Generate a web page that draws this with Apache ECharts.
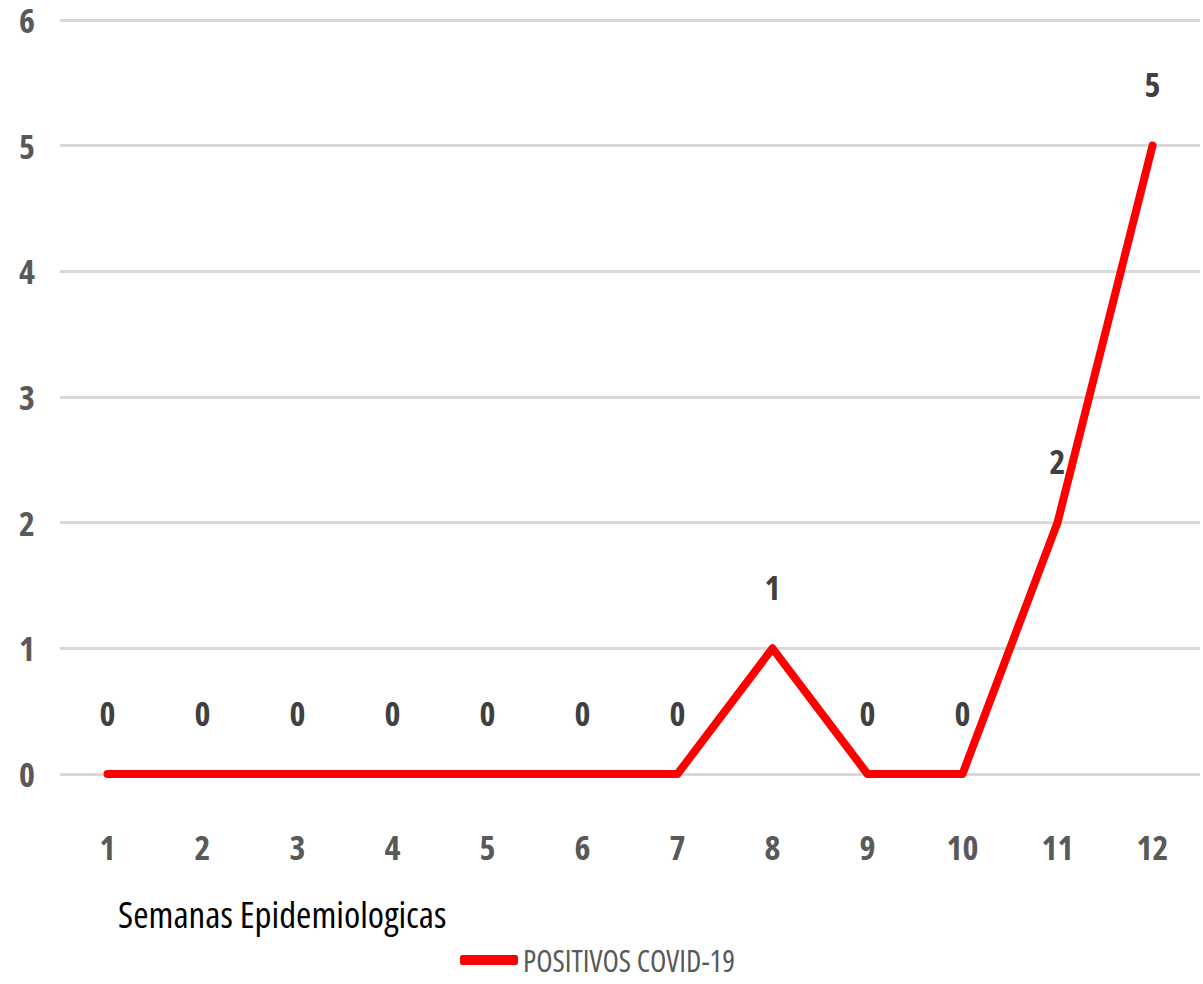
<!DOCTYPE html>
<html>
<head>
<meta charset="utf-8">
<script src="https://cdn.jsdelivr.net/npm/echarts@6/dist/echarts.min.js"></script>
<style>
html,body{margin:0;padding:0;background:#fff}
#c{width:1203px;height:984px}
#c svg text{font-stretch:75% !important;}
</style>
</head>
<body>
<div id="c"></div>
<script>
const categories = ['1','2','3','4','5','6','7','8','9','10','11','12'];
const positivos = [0,0,0,0,0,0,0,1,0,0,2,5];
const yTicks = [0,1,2,3,4,5,6];
const seriesName = 'POSITIVOS COVID-19';
const xAxisTitle = 'Semanas Epidemiologicas';

const narrow = '"Open Sans","Noto Sans","DejaVu Sans",sans-serif';
const chart = echarts.init(document.getElementById('c'), null, { renderer: 'svg' });
chart.setOption({
  animation: false,
  title: {
    text: xAxisTitle, left: 113, top: 890,
    textStyle: { fontFamily: narrow, fontSize: 37, fontWeight: 'normal', color: '#000' }
  },
  legend: {
    data: [seriesName], left: 460, top: 944,
    icon: 'roundRect', itemWidth: 58, itemHeight: 10, itemGap: 6, padding: 0,
    textStyle: { fontFamily: narrow, fontSize: 30, lineHeight: 32, color: '#595959' }
  },
  grid: { left: 60, right: 3, top: 20, bottom: 210, containLabel: false },
  xAxis: {
    type: 'category', data: categories, boundaryGap: true,
    axisLine: { show: false }, axisTick: { show: false },
    axisLabel: { margin: 56, fontFamily: narrow, fontSize: 34, fontWeight: 'bold', color: '#595959' }
  },
  yAxis: {
    type: 'value', min: yTicks[0], max: yTicks[yTicks.length-1], interval: 1,
    axisLine: { show: false }, axisTick: { show: false },
    splitLine: { lineStyle: { color: '#d9d9d9', width: 3 } },
    axisLabel: { margin: 25, fontFamily: narrow, fontSize: 34, lineHeight: 34, fontWeight: 'bold', color: '#595959' }
  },
  series: [{
    name: seriesName, type: 'line', data: positivos,
    showSymbol: true, symbol: 'circle', symbolSize: 1,
    lineStyle: { color: '#ff0000', width: 8, cap: 'round', join: 'round' },
    itemStyle: { color: '#ff0000' },
    label: {
      show: true, position: 'top', distance: 44,
      fontFamily: narrow, fontSize: 34, fontWeight: 'bold', color: '#404040'
    }
  }]
});
</script>
</body>
</html>
